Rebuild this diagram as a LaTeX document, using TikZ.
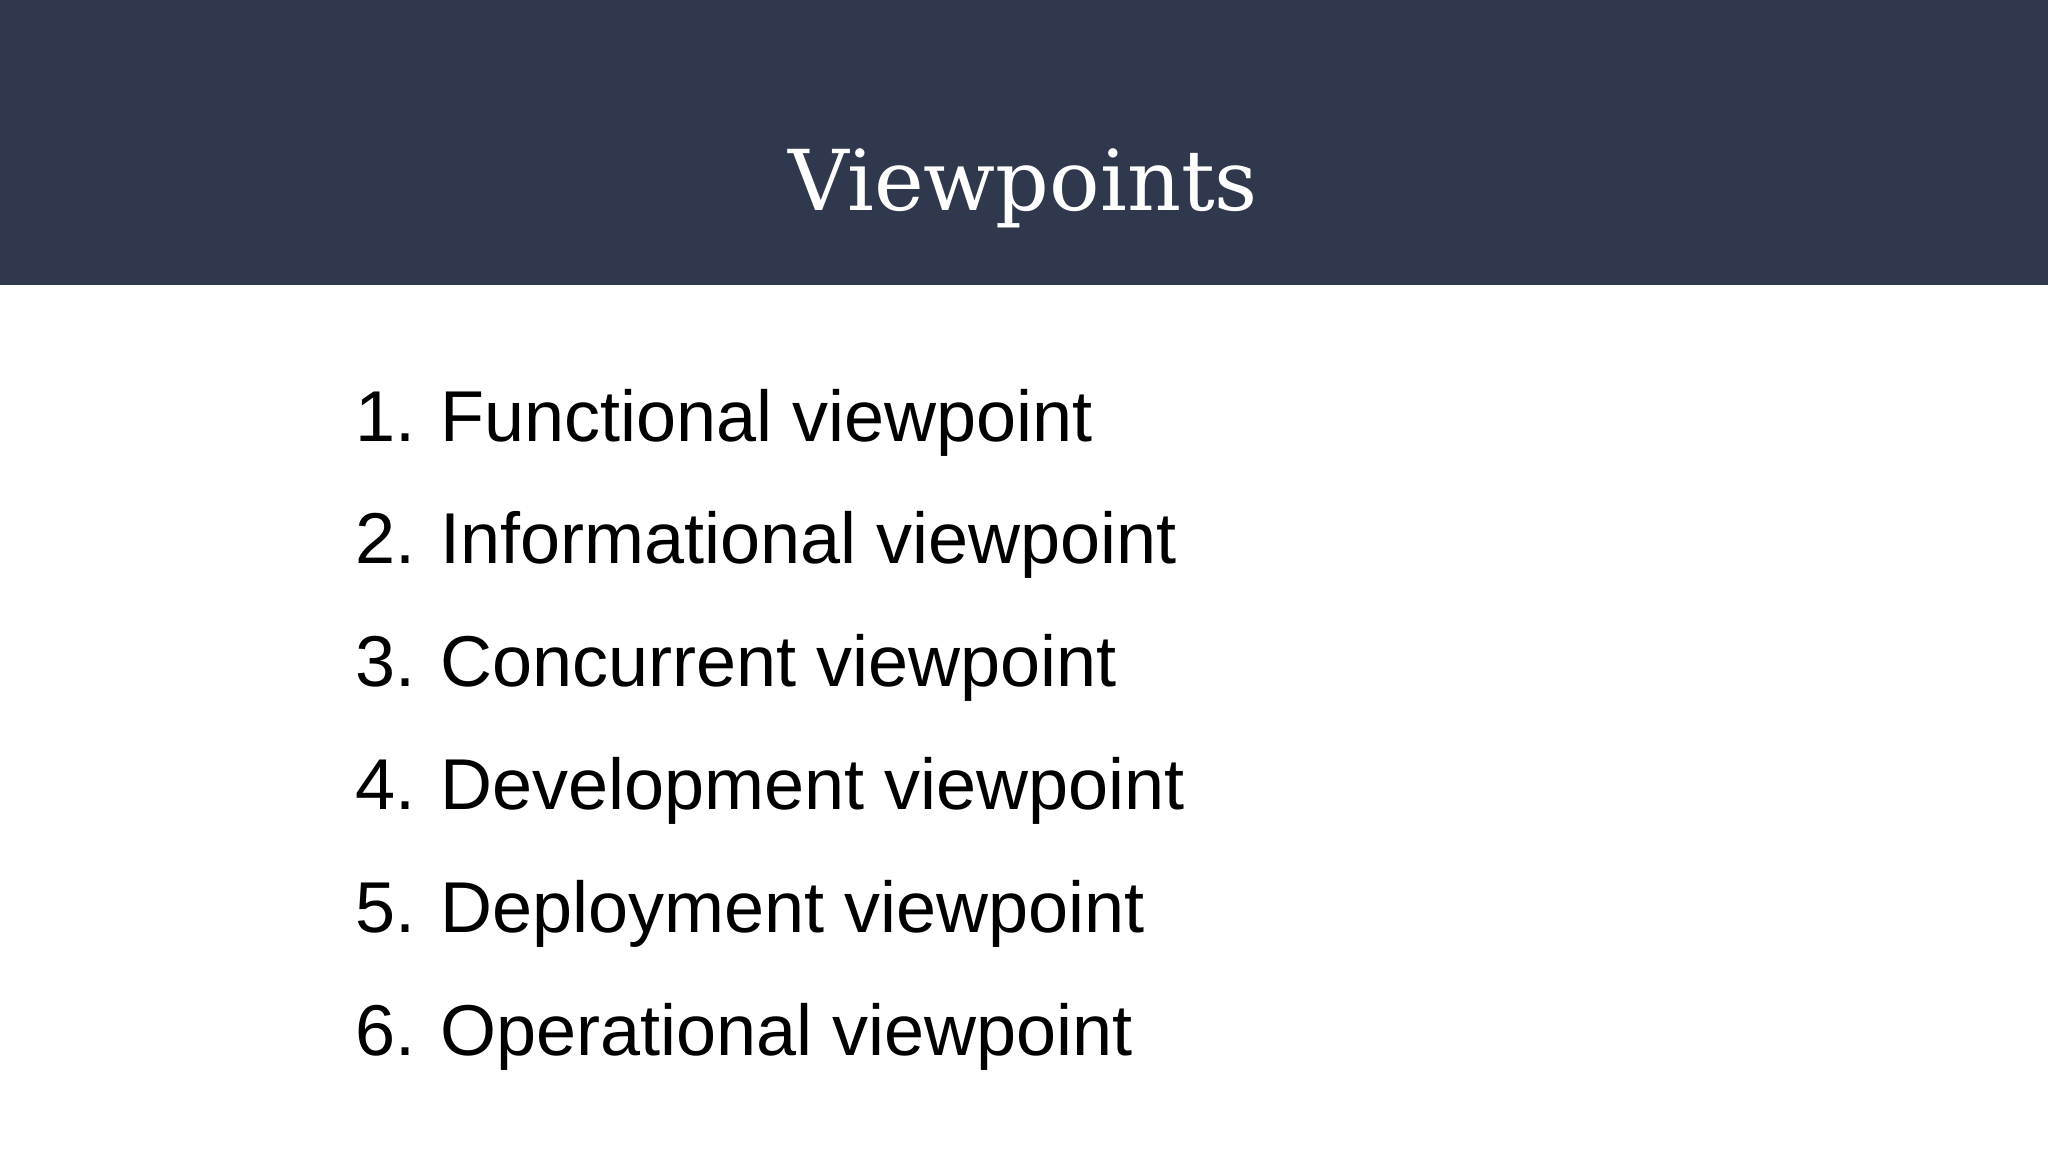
\documentclass[tikz,border=0pt]{standalone}
\usepackage{fontspec}
\setmainfont{Liberation Sans}
\newfontfamily\titlefont{DejaVu Serif}
\definecolor{band}{HTML}{30384D}
\begin{document}
\begin{tikzpicture}[x=0.5pt,y=-0.5pt,
  item/.style={anchor=base west,inner sep=0pt,font=\fontsize{36}{40}\selectfont,text=black}]
\useasboundingbox (0,0) rectangle (2048,1152);
\fill[white] (0,0) rectangle (2048,1152);
\fill[band] (0,0) rectangle (2048,285);
\node[anchor=base,inner sep=0pt,text=white,font=\titlefont\fontsize{42}{46}\selectfont] (title) at (1023,210) {Viewpoints};
\foreach \n/\t [count=\i from 0] in {1/Functional viewpoint,2/Informational viewpoint,3/Concurrent viewpoint,4/Development viewpoint,5/Deployment viewpoint,6/Operational viewpoint}{
  \node[item] (num\n) at (355,441+\i*122.8) {\n.};
  \node[item] (txt\n) at (440,441+\i*122.8) {\t};
}
\end{tikzpicture}
\end{document}
